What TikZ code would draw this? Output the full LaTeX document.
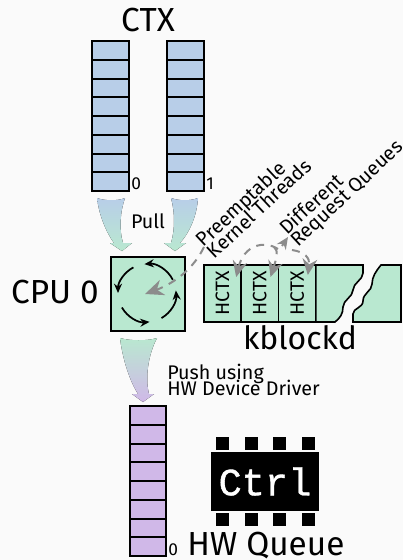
\documentclass[tikz,border=0pt]{standalone}
\usepackage{fontspec}
\setmainfont{Fira Sans}
\setmonofont{Liberation Mono}
\newfontfamily\chipfont[RawFeature={embolden=1}]{Liberation Mono}
\usetikzlibrary{positioning, arrows.meta, calc}

\definecolor{ctxblue}{HTML}{B8CEE8}
\definecolor{cpugreen}{HTML}{B9E8D0}
\definecolor{hwpurple}{HTML}{D0B8E8}
\definecolor{dashgray}{HTML}{8C8C8C}

\begin{document}
\begin{tikzpicture}[
    x=0.75pt, y=-0.75pt,
    >=Stealth,
    ctxcell/.style={rectangle, draw=black, line width=1.5pt, fill=ctxblue, minimum width=27.6pt, minimum height=14.06pt, inner sep=0pt, outer sep=0pt},
    hwcell/.style={ctxcell, fill=hwpurple},
    hctxcell/.style={rectangle, draw=black, line width=1.2pt, fill=cpugreen, minimum width=28pt, minimum height=42.75pt, inner sep=0pt, outer sep=0pt},
    hctxtext/.style={rotate=90, font=\fontsize{14.5}{15}\selectfont},
    cpubox/.style={rectangle, draw=black, line width=1.5pt, fill=cpugreen, minimum width=56pt, minimum height=56pt, inner sep=0pt},
    spinarrow/.style={->, line width=1.3pt, black, >={Stealth[length=7pt, width=6pt]}},
    dasharrow/.style={->, line width=1.5pt, dashgray, dash pattern=on 6pt off 5pt},
    smalltip/.style={>={Stealth[length=12pt, width=11pt]}},
    bigtext/.style={font=\fontsize{25}{27}\selectfont},
    smalltext/.style={font=\fontsize{14.8}{14.8}\selectfont, align=left},
    idxtext/.style={font=\fontsize{13}{13}\selectfont},
    pin/.style={rectangle, fill=black, minimum width=9.75pt, minimum height=9.75pt, inner sep=0pt},
]
\useasboundingbox[fill=white!98!black] (0,0) rectangle (403,560);

% Pull arrows
\fill[top color=ctxblue, bottom color=cpugreen]
    (97,198) .. controls (105,201) and (118,201) .. (125,198)
    .. controls (120,212) and (119,230) .. (123,243) -- (132,243) -- (122,251) -- (110,243) -- (114,243)
    .. controls (106,232) and (99,215) .. (97,198) -- cycle;
\fill[top color=ctxblue, bottom color=cpugreen]
    (171,198) .. controls (180,201) and (190,201) .. (198,198)
    .. controls (197,215) and (190,232) .. (180,243) -- (186,243) -- (175,251) -- (164,243) -- (171,243)
    .. controls (175,230) and (175,212) .. (171,198) -- cycle;

% Push arrow
\fill[top color=cpugreen, bottom color=hwpurple]
    (120,338) .. controls (130,341) and (148,341) .. (157,338)
    .. controls (148,355) and (145,378) .. (149,394) -- (154,394) -- (143,402) -- (132,394) -- (138,394)
    .. controls (128,378) and (122,355) .. (120,338) -- cycle;

% Software queues
\foreach \i in {0,...,7} {
    \node[ctxcell] (ctxa\i) at (110.5,{50.4+18.75*\i}) {};
    \node[ctxcell] (ctxb\i) at (185.5,{50.4+18.75*\i}) {};
    \node[hwcell] (hwq\i) at (148,{415.4+18.75*\i}) {};
}
\node[bigtext, anchor=base, inner sep=0pt] (ctxlabel) at (148,32) {CTX};
\node[idxtext, anchor=base west, inner sep=0pt] (ctxa0idx) at (131,189) {0};
\node[idxtext, anchor=base west, inner sep=0pt] (ctxb0idx) at (206,189) {1};

% CPU
\node[cpubox] (cpu) at (148,294) {};
\node[bigtext, anchor=base east, inner sep=0pt] (cpulabel) at (99,303) {CPU 0};
\coordinate (spin) at (147,293);
\draw[spinarrow] ($(spin)+(150:29)$) arc[start angle=150, end angle=85, radius=29];
\draw[spinarrow] ($(spin)+(60:29)$) arc[start angle=60, end angle=-5, radius=29];
\draw[spinarrow] ($(spin)+(-27:29)$) arc[start angle=-27, end angle=-95, radius=29];
\draw[spinarrow] ($(spin)+(-118:29)$) arc[start angle=-118, end angle=-180, radius=29];
\node[smalltext, inner sep=0pt] (pulllabel) at (148,221) {Pull};

% kblockd row
\node[hctxcell] (hctxa) at (222.5,293.5) {};
\node[hctxcell, right=0pt of hctxa] (hctxb) {};
\node[hctxcell, right=0pt of hctxb] (hctxc) {};
\node[hctxtext] at (hctxa) {HCTX};
\node[hctxtext] at (hctxb) {HCTX};
\node[hctxtext] at (hctxc) {HCTX};
\draw[line width=1.2pt, fill=cpugreen] (hctxc.north east) -- (363,265) -- (363,273)
    .. controls (363,280) and (353,283) .. (353,290)
    .. controls (353,297) and (343,300) .. (343,307)
    .. controls (343,314) and (340,318) .. (335,322) -- (hctxc.south east) -- cycle;
\draw[line width=1.2pt, fill=cpugreen] (381,265) -- (401,265) -- (401,322) -- (353,322) -- (353,314)
    .. controls (353,308) and (363,308) .. (363,301)
    .. controls (363,293) and (372,291) .. (372,284)
    .. controls (372,277) and (376,271) .. (381,265) -- cycle;
\node[bigtext, font=\fontsize{24}{26}\selectfont, anchor=base, inner sep=0pt] (kblockd) at (300,349) {kblockd};

% Dashed pointers
\coordinate (preempt) at (204,247);
\coordinate (tipcpu) at (145,294);
\coordinate (tipa) at ($(hctxa.north east)+(-5,12)$);
\coordinate (tipb) at ($(hctxb.north east)+(-8,12)$);
\coordinate (tipc) at ($(hctxc.north east)+(-8,10)$);
\coordinate (tipdiff) at (288,237);
\coordinate (overa) at (278,249);
\coordinate (overb) at (274,247);
\coordinate (overc) at (292,250);
\coordinate (taildiff) at (282,246);
\draw[dasharrow, >={Stealth[length=14pt, width=12pt]}] (preempt) .. controls (194,268) and (175,283) .. (tipcpu);
\draw[dasharrow, smalltip] (overa) .. controls (264,240) and (244,245) .. (tipa);
\draw[dasharrow, smalltip] (overb) .. controls (279,250) and (276,260) .. (tipb);
\draw[dasharrow, smalltip] (overc) .. controls (305,252) and (310,258) .. (tipc);
\draw[dashgray, line width=1.5pt, >={Stealth[length=9pt, width=8pt]}, ->] (taildiff) -- (tipdiff);

% Rotated notes
\node[smalltext, rotate=43, anchor=south west, inner sep=0pt] (preemptlabel) at (215,260) {Preemptable\\[-2.8pt]Kernel Threads};
\node[smalltext, rotate=43, anchor=south west, inner sep=0pt] (difflabel) at (301,251) {Different\\[-2.8pt]Request Queues};

% Labels below
\node[smalltext, anchor=north west, inner sep=0pt] (pushlabel) at (167,364) {Push using\\[-2.8pt]HW Device Driver};
\node[idxtext, anchor=base west, inner sep=0pt] (hwidx) at (168,555) {0};
\node[bigtext, anchor=base west, inner sep=0pt] (hwlabel) at (187,555) {HW Queue};

% Controller chip
\node[rectangle, fill=black, text=white, minimum width=81pt, minimum height=44pt, inner sep=0pt, font=\chipfont\fontsize{29}{30}\selectfont] (ctrl) at (265,481.5) {Ctrl};
\foreach \px in {222,251,279,308} {
    \node[pin] at (\px,443) {};
    \node[pin] at (\px,519.5) {};
}
\end{tikzpicture}
\end{document}
